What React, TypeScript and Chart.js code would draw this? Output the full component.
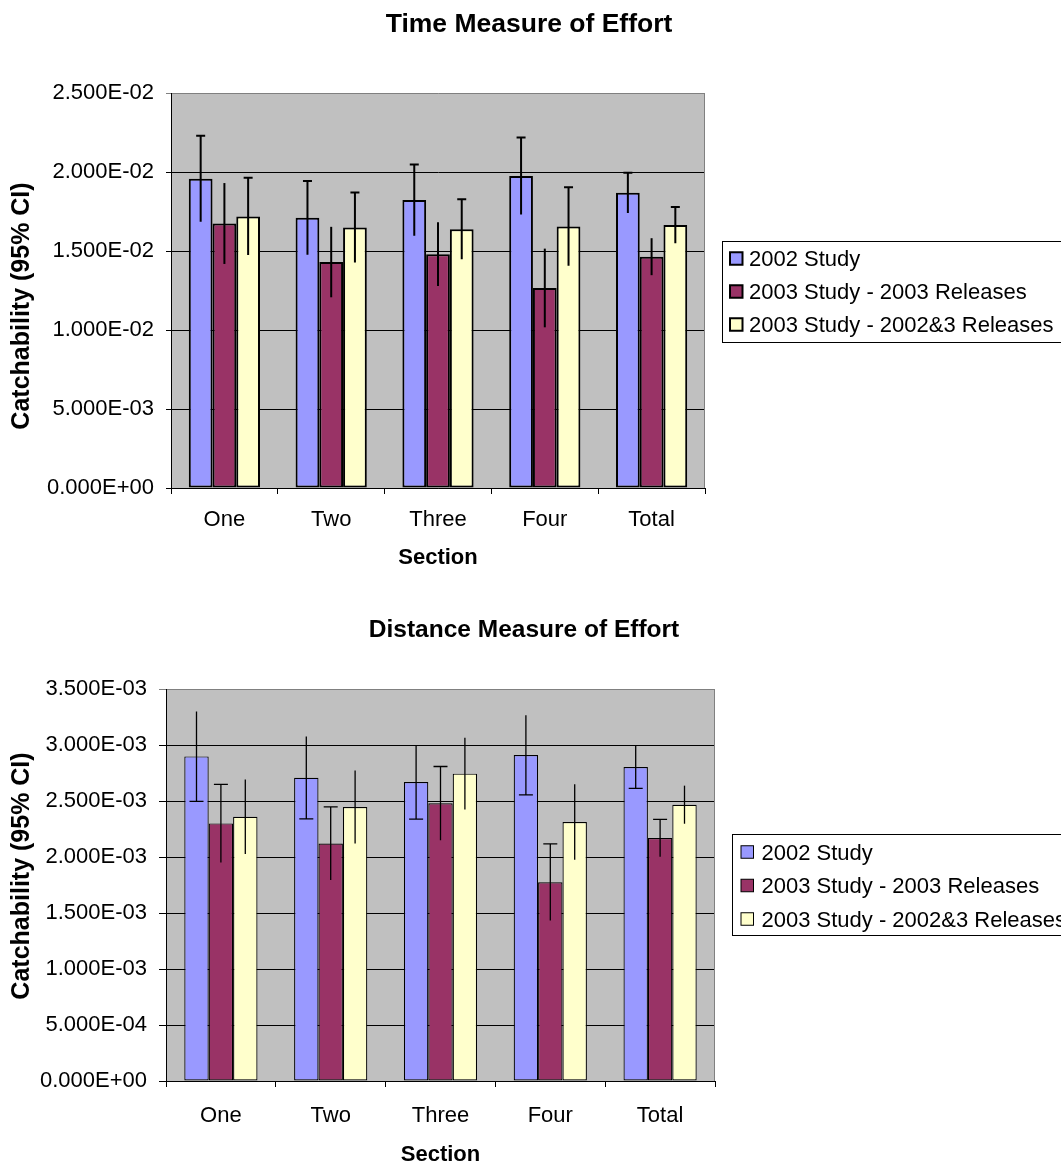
import React, { useEffect, useRef } from 'react';
import { Chart, registerables } from 'chart.js';
Chart.register(...registerables);

const categories = ['One', 'Two', 'Three', 'Four', 'Total'];
const seriesNames = ['2002 Study', '2003 Study - 2003 Releases', '2003 Study - 2002&3 Releases'];
const seriesColors = ['#9999FF', '#993366', '#FFFFCC'];

// Time measure of effort
const timeStudy2002 = [0.01957, 0.0171, 0.01822, 0.01975, 0.01868];
const timeStudy2003Rel2003 = [0.01674, 0.0143, 0.0148, 0.01266, 0.01464];
const timeStudy2003Rel20023 = [0.01719, 0.01649, 0.01638, 0.01655, 0.01664];
const timeErr2002 = [0.00272, 0.00233, 0.00226, 0.00244, 0.00127];
const timeErr2003Rel2003 = [0.00256, 0.00223, 0.00202, 0.00249, 0.00117];
const timeErr2003Rel20023 = [0.00244, 0.00221, 0.0019, 0.00248, 0.00115];
const timeAxisMax = 0.025;
const timeAxisStep = 0.005;

// Distance measure of effort
const distStudy2002 = [0.002898, 0.002708, 0.002669, 0.00291, 0.002803];
const distStudy2003Rel2003 = [0.0023, 0.002121, 0.002479, 0.001775, 0.002169];
const distStudy2003Rel20023 = [0.002359, 0.002446, 0.002744, 0.002312, 0.002467];
const distErr2002 = [0.000401, 0.000367, 0.000331, 0.000355, 0.000191];
const distErr2003Rel2003 = [0.000349, 0.000327, 0.000329, 0.000343, 0.000167];
const distErr2003Rel20023 = [0.000332, 0.000326, 0.00032, 0.000337, 0.00017];
const distAxisMax = 0.0035;
const distAxisStep = 0.0005;

const FONT = "'Liberation Sans', Arial, sans-serif";

const fmtSci = (v: number) => {
  const [m, e] = Number(v).toExponential(3).split('e');
  const n = parseInt(e, 10);
  return `${m}E${n < 0 ? '-' : '+'}${String(Math.abs(n)).padStart(2, '0')}`;
};

type Spec = {
  width: number;
  height: number;
  area: { left: number; right: number; top: number; bottom: number };
  title: string;
  titleSize: number;
  titleX: number;
  titleBaseline: number;
  yTitleX: number;
  yTitleY: number;
  values: number[][];
  errors: number[][];
  caps: string[];
  capWidth: number;
  barBorder: number;
  errWidth: number;
  max: number;
  step: number;
  yTickLen: number;
  yTickPad: number;
  xTickPad: number;
  xTitlePad: number;
  legend: { x: number; y: number; h: number; sqX: number; sqSize: number; textX: number; baselines: number[]; border: number };
};

function makeChart(canvas: HTMLCanvasElement, s: Spec) {
  const decor = {
    id: 'excelDecor',
    beforeDraw(chart: any) {
      const { ctx, chartArea: a } = chart;
      ctx.save();
      ctx.fillStyle = '#C0C0C0';
      ctx.fillRect(a.left, a.top, a.right - a.left, a.bottom - a.top);
      ctx.restore();
    },
    beforeDatasetsDraw(chart: any) {
      const { ctx, chartArea: a } = chart;
      ctx.save();
      ctx.strokeStyle = '#808080';
      ctx.lineWidth = 1;
      ctx.beginPath();
      ctx.moveTo(a.right - 0.5, a.top);
      ctx.lineTo(a.right - 0.5, a.bottom);
      ctx.stroke();
      ctx.restore();
    },
    afterDatasetsDraw(chart: any) {
      const { ctx } = chart;
      const y = chart.scales.y;
      ctx.save();
      ctx.strokeStyle = '#000';
      ctx.lineWidth = s.errWidth;
      s.errors.forEach((errs, di) => {
        const meta = chart.getDatasetMeta(di);
        const ds = chart.data.datasets[di];
        meta.data.forEach((bar: any, i: number) => {
          const v = ds.data[i] as number;
          const e = errs[i];
          const x = bar.x;
          const yt = y.getPixelForValue(v + e);
          const yb = y.getPixelForValue(v - e);
          ctx.beginPath();
          ctx.moveTo(x, yt);
          ctx.lineTo(x, yb);
          const hw = s.capWidth / 2;
          if (s.caps[di] === 'top' || s.caps[di] === 'both') {
            ctx.moveTo(x - hw, yt);
            ctx.lineTo(x + hw, yt);
          }
          if (s.caps[di] === 'bottom' || s.caps[di] === 'both') {
            ctx.moveTo(x - hw, yb);
            ctx.lineTo(x + hw, yb);
          }
          ctx.stroke();
        });
      });
      ctx.restore();
    },
    afterDraw(chart: any) {
      const { ctx } = chart;
      ctx.save();
      ctx.fillStyle = '#000';
      // chart title
      ctx.font = `bold ${s.titleSize}px ${FONT}`;
      ctx.textAlign = 'center';
      ctx.textBaseline = 'alphabetic';
      ctx.fillText(s.title, s.titleX, s.titleBaseline);
      // y axis title
      ctx.save();
      ctx.translate(s.yTitleX, s.yTitleY);
      ctx.rotate(-Math.PI / 2);
      ctx.font = `bold 25px ${FONT}`;
      ctx.fillText('Catchability (95% CI)', 0, 0);
      ctx.restore();
      // legend
      const L = s.legend;
      ctx.fillStyle = '#FFFFFF';
      ctx.fillRect(L.x, L.y, 420, L.h);
      ctx.strokeStyle = '#000';
      ctx.lineWidth = 1;
      ctx.strokeRect(L.x + 0.5, L.y + 0.5, 420, L.h);
      ctx.font = `22px ${FONT}`;
      ctx.textAlign = 'left';
      chart.data.datasets.forEach((ds: any, i: number) => {
        const b = L.baselines[i];
        const sy = b - 7.5 - L.sqSize / 2;
        ctx.fillStyle = ds.backgroundColor;
        ctx.fillRect(L.sqX, sy, L.sqSize, L.sqSize);
        ctx.lineWidth = L.border;
        ctx.strokeStyle = '#000';
        ctx.strokeRect(L.sqX, sy, L.sqSize, L.sqSize);
        ctx.fillStyle = '#000';
        ctx.fillText(ds.label, L.textX, b);
      });
      ctx.restore();
    },
  };

  return new Chart(canvas, {
    type: 'bar',
    data: {
      labels: categories,
      datasets: s.values.map((vals, i) => ({
        label: seriesNames[i],
        data: vals,
        backgroundColor: seriesColors[i],
        borderColor: '#000000',
        borderWidth: s.barBorder,
        borderSkipped: false,
        categoryPercentage: 3 / 4.5,
        barPercentage: 1.0,
      })),
    },
    options: {
      responsive: false,
      animation: false,
      devicePixelRatio: 1,
      layout: {
        padding: {
          left: 0,
          top: s.area.top,
          right: s.width - s.area.right,
          bottom: 0,
        },
      },
      plugins: {
        legend: { display: false },
        title: { display: false },
        tooltip: { enabled: false },
      },
      scales: {
        x: {
          grid: {
            offset: true,
            drawOnChartArea: false,
            drawTicks: true,
            tickLength: 6,
            color: '#000',
          },
          border: { display: true, color: '#000', width: 1 },
          ticks: {
            color: '#000',
            font: { family: FONT, size: 22 },
            padding: s.xTickPad,
            maxRotation: 0,
          },
          title: {
            display: true,
            text: 'Section',
            color: '#000',
            font: { family: FONT, size: 22, weight: 'bold', lineHeight: 1 },
            padding: { top: 0, bottom: s.xTitlePad },
          },
          afterFit: (scale: any) => {
            scale.height = s.height - s.area.bottom;
          },
        },
        y: {
          min: 0,
          max: s.max,
          grid: {
            drawTicks: true,
            tickLength: s.yTickLen,
            color: (c: any) => (c.tick && Math.abs(c.tick.value - s.max) < s.max * 1e-6 ? '#808080' : '#000'),
            lineWidth: 1,
          },
          border: { display: true, color: '#000', width: 1 },
          ticks: {
            stepSize: s.step,
            color: '#000',
            font: { family: FONT, size: 22 },
            padding: s.yTickPad,
            callback: (v: any) => fmtSci(Number(v)),
          },
          afterFit: (scale: any) => {
            scale.width = s.area.left;
          },
        },
      },
    } as any,
    plugins: [decor],
  });
}

const topSpec: Spec = {
  width: 1061,
  height: 583,
  area: { left: 171, right: 705, top: 93, bottom: 488 },
  title: 'Time Measure of Effort',
  titleSize: 26.5,
  titleX: 529,
  titleBaseline: 32,
  yTitleX: 28.5,
  yTitleY: 306,
  values: [timeStudy2002, timeStudy2003Rel2003, timeStudy2003Rel20023],
  errors: [timeErr2002, timeErr2003Rel2003, timeErr2003Rel20023],
  caps: ['top', 'none', 'top'],
  capWidth: 9,
  barBorder: 2,
  errWidth: 2,
  max: timeAxisMax,
  step: timeAxisStep,
  yTickLen: 5,
  yTickPad: 12,
  xTickPad: 13,
  xTitlePad: 14.5,
  legend: { x: 722, y: 241, h: 101, sqX: 730, sqSize: 12.5, textX: 749, baselines: [266, 299, 332], border: 2 },
};

const bottomSpec: Spec = {
  width: 1061,
  height: 584,
  area: { left: 166, right: 715, top: 106, bottom: 498 },
  title: 'Distance Measure of Effort',
  titleSize: 24.5,
  titleX: 524,
  titleBaseline: 54,
  yTitleX: 28.5,
  yTitleY: 293,
  values: [distStudy2002, distStudy2003Rel2003, distStudy2003Rel20023],
  errors: [distErr2002, distErr2003Rel2003, distErr2003Rel20023],
  caps: ['bottom', 'top', 'none'],
  capWidth: 14,
  barBorder: 1.2,
  errWidth: 1.3,
  max: distAxisMax,
  step: distAxisStep,
  yTickLen: 7,
  yTickPad: 12,
  xTickPad: 15.5,
  xTitlePad: 1,
  legend: { x: 732, y: 251, h: 101, sqX: 741, sqSize: 12.5, textX: 761.5, baselines: [276.5, 310, 343.5], border: 1 },
};

function ChartCanvas({ spec }: { spec: Spec }) {
  const ref = useRef<HTMLCanvasElement | null>(null);
  useEffect(() => {
    if (!ref.current) return;
    const chart = makeChart(ref.current, spec);
    return () => chart.destroy();
  }, [spec]);
  return <canvas ref={ref} width={spec.width} height={spec.height} style={{ display: 'block', width: spec.width, height: spec.height }} />;
}

export default function App() {
  return (
    <div style={{ position: 'absolute', left: 0, top: 0, width: 1061, height: 1167, background: '#fff', overflow: 'hidden' }}>
      <ChartCanvas spec={topSpec} />
      <ChartCanvas spec={bottomSpec} />
    </div>
  );
}
